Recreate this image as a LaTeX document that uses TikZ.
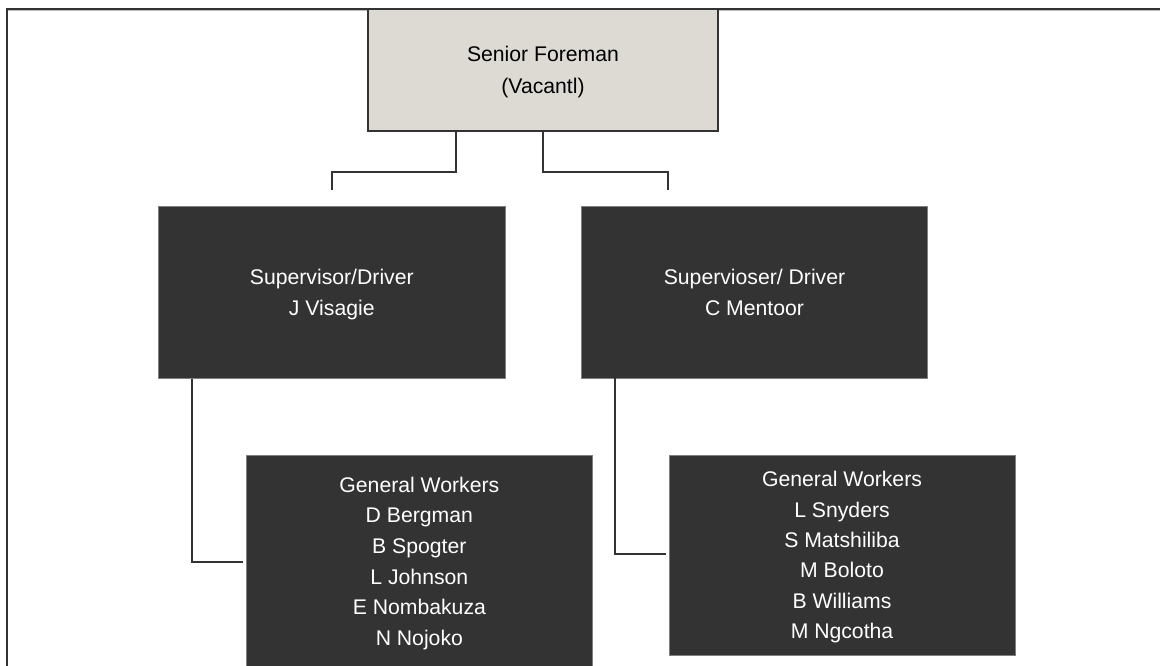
\documentclass[tikz,border=0pt]{standalone}
\usepackage{fontspec}
\setmainfont{Liberation Sans}
\usetikzlibrary{calc}
\definecolor{boxdark}{HTML}{333333}
\definecolor{edgegray}{HTML}{7F7F7F}
\definecolor{headfill}{HTML}{DCDAD3}
\definecolor{linedark}{HTML}{333333}
\definecolor{rulelight}{HTML}{BDBDBD}
% every line gets cap height and no depth, so blocks centre on their capitals
\newcommand\capln[1]{\raisebox{0pt}[15.2pt][0pt]{#1}}
\begin{document}
\begin{tikzpicture}[x=1pt,y=-1pt,
  orgtext/.style={font=\fontsize{21.2}{30.6}\selectfont, align=center, inner sep=0pt, outer sep=0pt, rectangle, anchor=north west},
  headbox/.style={orgtext, draw=linedark, line width=2pt, fill=headfill, text=black},
  darkbox/.style={orgtext, draw=edgegray, line width=0.8pt, fill=boxdark, text=white},
  link/.style={draw=linedark, line width=2pt},
]
\clip (0,0) rectangle (1160,666);
\fill[white] (0,0) rectangle (1160,666);

% page frame (open to the right and below)
\draw[linedark, line width=2pt] (7.3,700) -- (7.3,8.7) -- (1170,8.7);
\draw[rulelight, line width=1pt] (8.3,10.2) -- (1170,10.2);

% boxes
\node[headbox, minimum width=350, minimum height=122,
      font=\fontsize{21.2}{31.7}\selectfont] (sf) at (368,9)
  {\capln{Senior Foreman}\\\capln{(Vacantl)}};
\node[darkbox, minimum width=346.4, minimum height=172,
      font=\fontsize{21.2}{30.5}\selectfont] (supL) at (158.6,206.5)
  {\capln{Supervisor/Driver}\\\capln{J Visagie}};
\node[darkbox, minimum width=345.6, minimum height=172,
      font=\fontsize{21.2}{31}\selectfont] (supR) at (581.7,206)
  {\capln{Supervioser/ Driver}\\\capln{C Mentoor}};
\node[darkbox, minimum width=346.7, minimum height=212.4] (gwL) at (246,455)
  {\capln{General Workers}\\\capln{D Bergman}\\\capln{B Spogter}\\\capln{L Johnson}\\\capln{E Nombakuza}\\\capln{N Nojoko}};
\node[darkbox, minimum width=346, minimum height=200,
      font=\fontsize{21.2}{30.4}\selectfont] (gwR) at (669,455)
  {\capln{General Workers}\\\capln{L Snyders}\\\capln{S Matshiliba}\\\capln{M Boloto}\\\capln{B Williams}\\\capln{M Ngcotha}};

% free ends of the connectors
\coordinate (supLtop) at (332,190);
\coordinate (supRtop) at (668,190);
\coordinate (gwLend) at (243,562);
\coordinate (gwRend) at (665.8,554.3);

% connectors
\draw[link] ($(sf.south west)+(88,0)$) |- ($(supLtop)+(0,-18)$) -- (supLtop);
\draw[link] ($(sf.south west)+(175,0)$) |- ($(supRtop)+(0,-18)$) -- (supRtop);
\draw[link] ($(supL.south west)+(33.4,0)$) |- (gwLend);
\draw[link] ($(supR.south west)+(33.3,0)$) |- (gwRend);
\end{tikzpicture}
\end{document}
